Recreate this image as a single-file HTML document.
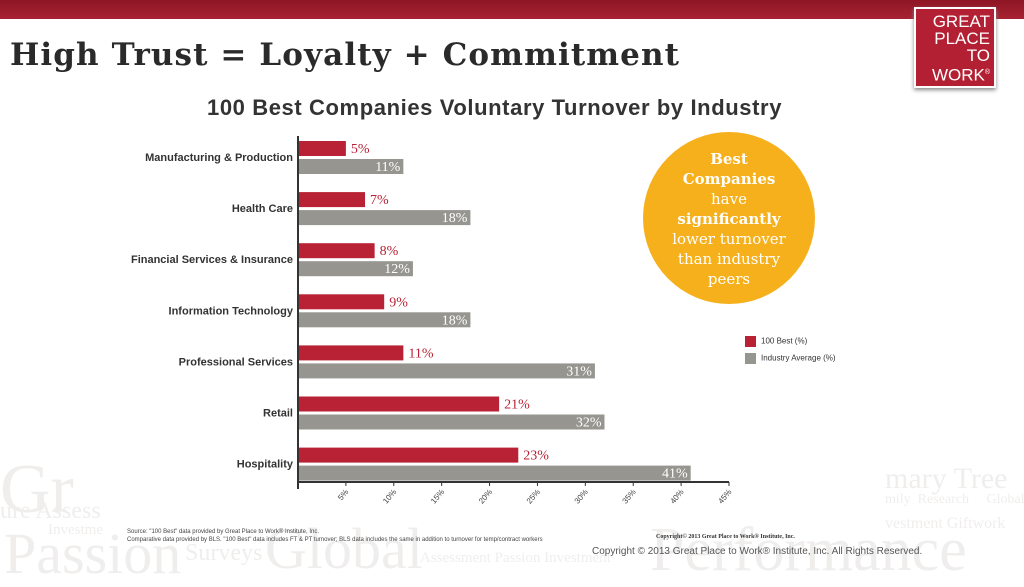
<!DOCTYPE html>
<html><head><meta charset="utf-8"><style>
body{margin:0;width:1024px;height:576px;overflow:hidden;background:#fff;position:relative;font-family:"Liberation Sans",sans-serif}
.wm{position:absolute;font-family:"Liberation Serif",serif;color:#f0eeed;white-space:nowrap}
</style></head><body>
<div style="position:absolute;left:0;top:0;width:1024px;height:19px;background:linear-gradient(#8e1624,#a82232)"></div>
<div>
<div class="wm" style="left:0;top:450px;font-size:70px">Gr</div>
<div class="wm" style="left:0;top:498px;font-size:24px">ure Assess</div>
<div class="wm" style="left:48px;top:522px;font-size:15px">Investme</div>
<div class="wm" style="left:4px;top:520px;font-size:58px">Passion</div>
<div class="wm" style="left:185px;top:540px;font-size:24px">Surveys</div>
<div class="wm" style="left:265px;top:515px;font-size:58px">Global</div>
<div class="wm" style="left:420px;top:550px;font-size:15px">Assessment Passion Investment</div>
<div class="wm" style="left:650px;top:515px;font-size:62px">Performance</div>
<div class="wm" style="left:885px;top:462px;font-size:30px">mary Tree</div>
<div class="wm" style="left:885px;top:492px;font-size:14px">mily &nbsp;Research &nbsp;&nbsp;&nbsp; Global</div>
<div class="wm" style="left:885px;top:515px;font-size:16px">vestment Giftwork</div>
</div>
<div style="position:absolute;left:914px;top:7px;width:82px;height:81px;background:#b32033;border:2px solid #fff;box-shadow:0 2px 4px #888;color:#fff;font-size:17px;line-height:17px;text-align:right;padding:4px 4px 0 0;box-sizing:border-box">GREAT<br>PLACE<br>TO<br>WORK<sup style="font-size:7px">®</sup></div>
<div style="position:absolute;left:10px;top:37px;font-family:'DejaVu Serif','Liberation Serif',serif;font-size:31px;font-weight:bold;color:#2a2a2a;letter-spacing:1.1px">High Trust = Loyalty + Commitment</div>
<div style="position:absolute;left:207px;top:95px;font-size:22px;font-weight:bold;color:#333;letter-spacing:0.6px">100 Best Companies Voluntary Turnover by Industry</div>
<svg id="chart" width="1024" height="576" style="position:absolute;left:0;top:0"></svg>
<div style="position:absolute;left:643px;top:132px;width:172px;height:172px;border-radius:50%;background:#f5b01c;color:#fff;text-align:center;font-family:'DejaVu Serif','Liberation Serif',serif;font-size:15px;line-height:20px;box-sizing:border-box;padding-top:17px"><b>Best<br>Companies</b><br>have<br><b>significantly</b><br>lower turnover<br>than industry<br>peers</div>
<div style="position:absolute;left:745px;top:336px;font-size:8px;color:#333">
<div><span style="display:inline-block;width:11px;height:11px;background:#b82234;vertical-align:middle;margin-right:5px"></span>100 Best (%)</div>
<div style="margin-top:6px"><span style="display:inline-block;width:11px;height:11px;background:#96958f;vertical-align:middle;margin-right:5px"></span>Industry Average (%)</div>
</div>
<div style="position:absolute;left:127px;top:528px;font-size:6px;line-height:8px;color:#444">Source: "100 Best" data provided by Great Place to Work® Institute, Inc.<br>Comparative data provided by BLS. "100 Best" data includes FT &amp; PT turnover; BLS data includes the same in addition to turnover for temp/contract workers</div>
<div style="position:absolute;left:656px;top:534px;font-size:6px;color:#333;font-family:'Liberation Serif',serif;font-weight:bold">Copyright© 2013 Great Place to Work® Institute, Inc.</div>
<div style="position:absolute;left:592px;top:546px;font-size:10px;color:#555">Copyright © 2013 Great Place to Work® Institute, Inc. All Rights Reserved.</div>
<script>
const categories=["Manufacturing & Production","Health Care","Financial Services & Insurance","Information Technology","Professional Services","Retail","Hospitality"];
const best=[5,7,8,9,11,21,23];
const industry=[11,18,12,18,31,32,41];
const ticks=[5,10,15,20,25,30,35,40,45];
const svg=document.getElementById('chart');const NS='http://www.w3.org/2000/svg';
const x0=298,pxPer=(729-298)/45;
const xs=v=>x0+v*pxPer;
const ys=i=>141+i*51.1;
function mk(t,a){const e=document.createElementNS(NS,t);for(const k in a)e.setAttribute(k,a[k]);svg.appendChild(e);return e;}
categories.forEach((c,i)=>{
 const y=ys(i);
 const r=mk('rect',{x:x0,y:y,width:xs(best[i])-x0,height:15,fill:'#b82234'});
 
 
 const g=mk('rect',{x:x0,y:y+18,width:xs(industry[i])-x0,height:15,fill:'#96958f'});
 
 
 const t1=mk('text',{x:xs(best[i])+5,y:y+12,fill:'#b82234','font-size':14,'font-family':'Liberation Serif,serif'});t1.textContent=best[i]+'%';
 
 
 const t2=mk('text',{x:xs(industry[i])-3,y:y+30,fill:'#fff','font-size':14,'font-family':'Liberation Serif,serif','text-anchor':'end'});t2.textContent=industry[i]+'%';
 
 
 const l=mk('text',{x:293,y:y+20,fill:'#333','font-size':11,'font-weight':'bold','text-anchor':'end'});l.textContent=c;
 
 
});
const ax=mk('line',{x1:x0,y1:482,x2:xs(45),y2:482,stroke:'#333','stroke-width':2});


const ay=mk('line',{x1:x0,y1:136,x2:x0,y2:489,stroke:'#333','stroke-width':2});


ticks.forEach(v=>{
 mk('line',{x1:xs(v),y1:482,x2:xs(v),y2:486,stroke:'#333'});
 const t=mk('text',{x:xs(v)+3,y:492,fill:'#444','font-size':8,'text-anchor':'end',transform:`rotate(-50 ${xs(v)+3} 492)`});t.textContent=v+'%';
 
 
});
</script>
</body></html>
